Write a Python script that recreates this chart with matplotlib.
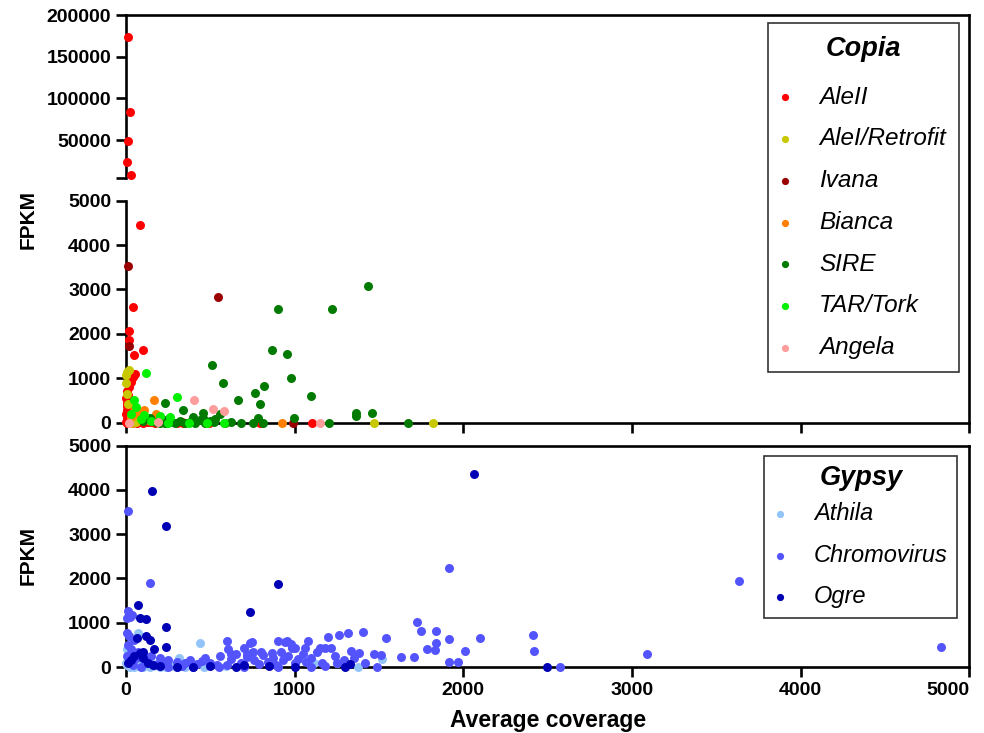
import numpy as np
import matplotlib
matplotlib.use('Agg')
import matplotlib.pyplot as plt

plt.rcParams['font.family'] = 'Liberation Sans'

# ---- Copia (top panel) ----
alell_x = [12, 24, 12, 6, 30, 83, 43, 18, 18, 49, 101, 52, 43, 28, 18,
           5, 10, 3, 15, 8, 22, 4, 12, 30, 6, 18, 40, 2, 25, 10, 55, 35, 14,
           70, 5, 45, 20, 90, 8, 60, 30, 110, 2, 75, 130, 40, 95, 160, 15, 55,
           120, 200, 25, 80, 140, 5, 35, 65, 100, 170, 240, 472, 490, 795,
           1105, 300, 43, 160, 330, 340]
alell_y = [173600, 83200, 49200, 23600, 8000, 4463, 2600, 2060, 1866, 1512,
           1640, 1100, 1023, 910, 797,
           700, 620, 560, 500, 450, 420, 380, 340, 300, 280, 250, 230, 200,
           180, 160, 150, 120, 100, 90, 80, 70, 60, 50, 40, 35, 30, 25, 20,
           18, 15, 12, 10, 8, 6, 5, 4, 3, 2, 2, 1, 0, 0, 0, 0, 0, 0, 0, 0, 0,
           0, 0, 120, 5, 5, 0]

retrofit_x = [3, 18, 8, 2, 5, 12, 1473, 1823, 30, 60]
retrofit_y = [1060, 1190, 1130, 900, 650, 420, 0, 0, 0, 10]

ivana_x = [10, 548, 18, 993]
ivana_y = [3530, 2830, 1715, 0]

bianca_x = [168, 176, 109, 60, 927, 45, 85, 130, 30]
bianca_y = [512, 196, 286, 220, 0, 260, 150, 60, 120]

sire_x = [229, 338, 457, 556, 508, 573, 903, 1224, 1433, 868, 953, 979, 817,
          765, 793, 1095, 666, 1366, 1366, 1461, 785, 994, 682, 755, 815,
          1206, 1671, 150, 180, 200, 230, 260, 290, 320, 350, 380, 410, 440,
          470, 500, 530, 590, 620, 140, 100, 250, 400, 455, 520]
sire_y = [444, 286, 219, 196, 1287, 896, 2566, 2566, 3077, 1640, 1535, 993,
          828, 670, 413, 602, 512, 225, 150, 225, 97, 97, 0, 0, 0, 0, 0, 60,
          20, 0, 0, 10, 0, 40, 0, 20, 0, 60, 0, 30, 80, 0, 10, 100, 30, 80,
          120, 110, 20]

tar_x = [119, 304, 259, 49, 109, 581, 376, 60, 90, 150, 200, 30, 480, 250]
tar_y = [1122, 580, 120, 505, 158, 0, 0, 350, 80, 40, 150, 200, 0, 0]

angela_x = [405, 514, 583, 1149, 20, 190]
angela_y = [512, 309, 264, 0, 0, 10]

# ---- Gypsy (bottom panel) ----
athila_x = [69, 439, 734, 314, 1518, 1250, 1374, 1117, 591,
            5, 10, 20, 30, 15, 40, 50, 60, 70, 80, 90, 100, 120, 140, 160,
            180, 200, 220, 240, 270, 300, 350, 400, 460, 2, 8, 25, 45, 110,
            130, 35, 55, 75, 95]
athila_y = [762, 536, 310, 196, 181, 97, 0, 97, 30,
            400, 300, 250, 200, 150, 120, 100, 80, 50, 30, 20, 10, 40, 0, 20,
            60, 10, 30, 0, 20, 0, 10, 30, 0, 100, 50, 0, 10, 90, 150, 300,
            220, 160, 130]

chromo_x = [10, 1916, 142, 10, 34, 4, 4, 24, 599, 607, 749, 900, 945, 922,
            983, 1081, 1200, 1216, 1265, 1315, 1408, 1335, 1384, 1544, 1510,
            1631, 1710, 1728, 1748, 1839, 1839, 1785, 1830, 1916, 1916, 1967,
            2009, 2100, 2416, 2422, 2574, 3088, 3636, 4834,
            735, 955, 755, 864, 715,
            100, 150, 200, 250, 300, 350, 380, 420, 470, 500, 540, 560, 620,
            650, 680, 700, 720, 760, 790, 810, 840, 870, 890, 930, 960, 1000,
            1020, 1050, 1070, 1100, 1130, 1160, 1180, 1240, 1290, 1350, 1420,
            1470, 1490, 1300, 1100, 900, 700, 550, 400, 250, 180, 120, 60, 30,
            50, 20, 10, 70, 5, 40, 90, 220, 330, 450, 600, 800, 1000, 1150,
            980, 1060, 620, 1250, 1180]
chromo_y = [3514, 2233, 1908, 1267, 1176, 1100, 776, 1138, 595, 400, 558,
            595, 558, 347, 422, 595, 686, 422, 724, 762, 785, 362, 310, 656,
            271, 233, 233, 1011, 814, 814, 536, 400, 377, 626, 120, 120, 362,
            656, 717, 362, 0, 301, 1939, 459,
            536, 580, 346, 310, 300,
            300, 250, 200, 150, 120, 80, 150, 60, 200, 100, 50, 250, 180, 300,
            100, 420, 220, 150, 60, 280, 120, 200, 40, 150, 250, 80, 180, 300,
            120, 200, 350, 100, 420, 250, 150, 200, 80, 300, 0, 20, 0, 10, 0,
            0, 10, 0, 50, 100, 200, 400, 600, 700, 500, 350, 250, 50, 10, 90,
            30, 130, 40, 350, 420, 420, 520, 440, 300, 80, 30]

ogre_x = [2066, 152, 237, 903, 69, 734, 83, 119, 237, 63, 119, 142, 168, 237,
          103, 83, 2497, 30, 50, 100, 130, 160, 200, 300, 500, 650, 850, 1000,
          1300, 1330, 10, 400, 700]
ogre_y = [4351, 3966, 3190, 1878, 1395, 1237, 1116, 1079, 912, 649, 701, 600,
          404, 460, 346, 310, 0, 150, 250, 200, 100, 50, 20, 0, 20, 0, 30, 10,
          0, 60, 100, 0, 40]

copia = [
    ('AleII', alell_x, alell_y, '#ff0000'),
    ('AleI/Retrofit', retrofit_x, retrofit_y, '#c8c800'),
    ('Ivana', ivana_x, ivana_y, '#9a0000'),
    ('Bianca', bianca_x, bianca_y, '#ff8000'),
    ('SIRE', sire_x, sire_y, '#007a00'),
    ('TAR/Tork', tar_x, tar_y, '#00f000'),
    ('Angela', angela_x, angela_y, '#ff9c9c'),
]
gypsy = [
    ('Athila', athila_x, athila_y, '#92c4fa'),
    ('Chromovirus', chromo_x, chromo_y, '#5454ff'),
    ('Ogre', ogre_x, ogre_y, '#0000b4'),
]

LW = 1.9
TICK_FS = 14
DOT = 42

fig = plt.figure(figsize=(9.84, 7.33), dpi=100)
left, width = 0.128, 0.857

ax_up = fig.add_axes([left, 0.7578, width, 0.2217])
ax_lo = fig.add_axes([left, 0.4236, width, 0.3026])
ax_frame = fig.add_axes([left, 0.4236, width, 0.5559], zorder=5)
ax_bot = fig.add_axes([left, 0.0900, width, 0.3022])


def style(ax):
    for s in ax.spines.values():
        s.set_linewidth(LW)
    ax.tick_params(direction='out', length=7, width=LW, labelsize=TICK_FS)
    for lab in ax.get_xticklabels() + ax.get_yticklabels():
        lab.set_fontweight('bold')
    ax.set_xlim(0, 5000)


handles = []
for name, xs, ys, col in copia:
    xs, ys = np.array(xs), np.array(ys)
    hi = ys > 5000
    ax_up.scatter(xs[hi], ys[hi], s=DOT, c=col, lw=0, clip_on=False, zorder=3)
    h = ax_lo.scatter(xs[~hi], ys[~hi], s=DOT, c=col, lw=0, clip_on=False,
                      zorder=3, label=name)
    handles.append(h)

ax_up.set_ylim(5000, 200000)
ax_up.set_yticks([5000, 50000, 100000, 150000, 200000])
ax_up.set_yticklabels(['', '50000', '100000', '150000', '200000'])
ax_up.set_xticks([])
for s in ['top', 'right', 'bottom']:
    ax_up.spines[s].set_visible(False)
style(ax_up)

ax_lo.set_ylim(0, 5000)
ax_lo.set_yticks(range(0, 5001, 1000))
ax_lo.set_xticks(range(0, 5001, 1000))
ax_lo.set_xticklabels([])
for s in ['top', 'right']:
    ax_lo.spines[s].set_visible(False)
style(ax_lo)

ax_frame.patch.set_visible(False)
ax_frame.set_xticks([])
ax_frame.set_yticks([])
for s in ['left', 'bottom']:
    ax_frame.spines[s].set_visible(False)
for s in ['top', 'right']:
    ax_frame.spines[s].set_linewidth(LW)

leg_kw = dict(loc='upper right', frameon=True, fancybox=False,
              edgecolor='black', borderaxespad=0, markerscale=0.8,
              title_fontproperties={'weight': 'bold', 'style': 'italic',
                                    'size': 19.5})
leg = ax_frame.legend(handles=handles, title='Copia',
                      bbox_to_anchor=(0.988, 0.981),
                      handlelength=0.25, handletextpad=1.28,
                      labelspacing=0.77, borderpad=0.55,
                      prop={'style': 'italic', 'size': 17.5}, **leg_kw)
leg.get_frame().set_linewidth(1.2)
leg._legend_box.sep = 17  # wider gap under the title, as in the original

g_handles = []
for name, xs, ys, col in gypsy:
    h = ax_bot.scatter(xs, ys, s=DOT, c=col, lw=0, clip_on=False, zorder=3,
                       label=name)
    g_handles.append(h)
ax_bot.set_ylim(0, 5000)
ax_bot.set_yticks(range(0, 5001, 1000))
ax_bot.set_xticks(range(0, 5001, 1000))
style(ax_bot)
ax_bot.get_xticklabels()[-1].set_horizontalalignment('right')
leg2 = ax_bot.legend(handles=g_handles, title='Gypsy',
                     bbox_to_anchor=(0.986, 0.953),
                     handlelength=0.56, handletextpad=1.16,
                     labelspacing=0.78, borderpad=0.4,
                     prop={'style': 'italic', 'size': 17}, **leg_kw)
leg2.get_frame().set_linewidth(1.2)
leg2._legend_box.sep = 8

fig.text(0.029, 0.70, 'FPKM', rotation=90, ha='center', va='center',
         fontsize=15, fontweight='bold')
fig.text(0.029, 0.242, 'FPKM', rotation=90, ha='center', va='center',
         fontsize=15, fontweight='bold')
fig.text(0.5565, 0.017, 'Average coverage', ha='center', va='center',
         fontsize=16.5, fontweight='bold')

fig.savefig('out.png', dpi=100)
